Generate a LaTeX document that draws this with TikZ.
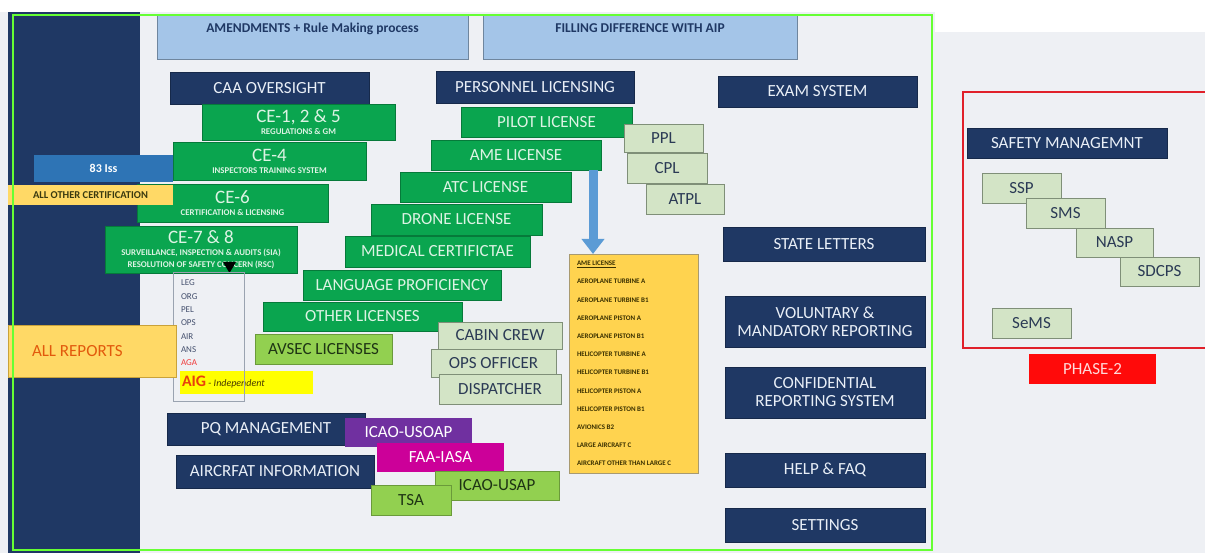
\documentclass[tikz,border=0pt]{standalone}
\usepackage{fontspec}
\setmainfont{Carlito}
\usepackage{tikz}
\usetikzlibrary{arrows.meta}

\definecolor{pagegray}{HTML}{EEF0F4}
\definecolor{navy}{HTML}{1F3864}
\definecolor{navyedge}{HTML}{16294A}
\definecolor{navytext}{HTML}{E9EFF7}
\definecolor{licgreen}{HTML}{0AA54F}
\definecolor{greenedge}{HTML}{067A3A}
\definecolor{minttext}{HTML}{DDF3E4}
\definecolor{palegreen}{HTML}{D3E4C6}
\definecolor{paleedge}{HTML}{7F8F78}
\definecolor{slatetext}{HTML}{2B3A55}
\definecolor{limegreen}{HTML}{92D050}
\definecolor{limeedge}{HTML}{6A9A3A}
\definecolor{darkgreentext}{HTML}{1E3414}
\definecolor{topblue}{HTML}{A4C5E8}
\definecolor{topedge}{HTML}{6F869E}
\definecolor{issblue}{HTML}{2E74B5}
\definecolor{amber}{HTML}{FFD966}
\definecolor{amberedge}{HTML}{C9A23A}
\definecolor{certtext}{HTML}{3A3A10}
\definecolor{reporttext}{HTML}{E2590C}
\definecolor{listtext}{HTML}{44506E}
\definecolor{listedge}{HTML}{9AA3B0}
\definecolor{agared}{HTML}{F03A3A}
\definecolor{aigorange}{HTML}{E8400C}
\definecolor{indtext}{HTML}{4A3B00}
\definecolor{hiyellow}{HTML}{FFFF00}
\definecolor{usoappurple}{HTML}{7030A0}
\definecolor{faamagenta}{HTML}{CC0099}
\definecolor{arrowblue}{HTML}{5B9BD5}
\definecolor{amelistfill}{HTML}{FFD34F}
\definecolor{amelistedge}{HTML}{A89A70}
\definecolor{amelisttext}{HTML}{3A3000}
\definecolor{phasered}{HTML}{FF0A0A}
\definecolor{phasetext}{HTML}{FFD9D9}
\definecolor{limeframe}{HTML}{66FF33}
\definecolor{redframe}{HTML}{E0202A}

\newcommand{\boxtxt}{\fontsize{17}{18}\selectfont}
\newcommand{\cetxt}{\fontsize{19}{12}\selectfont}
\newcommand{\cesub}{\fontsize{8.8}{12}\selectfont\bfseries}
\newcommand{\toptxt}{\fontsize{13.5}{15}\selectfont\bfseries}
\newcommand{\smalltxt}{\fontsize{12}{13}\selectfont\bfseries}
\newcommand{\listtxt}{\fontsize{9}{13.3}\selectfont}
\newcommand{\ameitems}{\fontsize{7}{18.2}\selectfont\bfseries}
\newcommand{\aigtxt}{\fontsize{16}{18}\selectfont\bfseries}

\tikzset{
  panel/.style={inner sep=0pt, outer sep=0pt, align=center},
  navybox/.style={panel, fill=navy, draw=navyedge, line width=0.6pt, text=navytext, font=\boxtxt},
  greenbox/.style={panel, fill=licgreen, draw=greenedge, line width=0.6pt, text=minttext, font=\boxtxt},
  cebox/.style={greenbox, font=\cetxt},
  palebox/.style={panel, fill=palegreen, draw=paleedge, line width=0.8pt, text=slatetext, font=\boxtxt},
  limebox/.style={panel, fill=limegreen, draw=limeedge, line width=0.8pt, text=darkgreentext, font=\boxtxt},
  topbox/.style={panel, fill=topblue, draw=topedge, line width=1pt, text=navy, font=\toptxt, text height=18pt, text depth=27pt},
  issbox/.style={panel, fill=issblue, text=white, font=\smalltxt},
  certbar/.style={panel, fill=amber, text=certtext, font=\fontsize{10.5}{12}\selectfont\bfseries},
  reportbox/.style={panel, fill=amber, draw=amberedge, line width=0.8pt, text=reporttext, font=\boxtxt, align=flush left, inner xsep=24pt, text width=120pt},
  tagbox/.style={panel, text=white, font=\boxtxt},
  amearrow/.style={draw=arrowblue, line width=9pt, -{Triangle[width=22pt,length=15pt]}},
  greenframe/.style={draw=limeframe, line width=2.5pt},
  phaseframe/.style={draw=redframe, line width=1.5pt}
}

\begin{document}
\begin{tikzpicture}[scale=1.000000,x=1pt,y=-1pt]
\useasboundingbox (0.000000,0.000000) rectangle (1205.000000,553.000000);
% Drawing background
\fill[white] (0.000000,0.000000) rectangle (1205.000000,553.000000);
\fill[pagegray] (0.000000,12.000000) rectangle (935.000000,553.000000);
\fill[pagegray] (935.000000,32.000000) rectangle (1205.000000,553.000000);
\fill[navy] (8.000000,12.000000) rectangle (140.000000,553.000000);
% Done with background; drawing top boxes
\node[topbox, minimum width=311.000000pt] (amend) at (312.500000,37.500000) {AMENDMENTS + Rule Making process};
\node[topbox, minimum width=314.000000pt] (filling) at (640.000000,37.500000) {FILLING DIFFERENCE WITH AIP};
% Done with top boxes; drawing oversight
\node[navybox, minimum width=199.000000pt, minimum height=32.000000pt] (caa) at (269.500000,88.000000) {CAA OVERSIGHT};
\node[cebox, minimum width=193.000000pt, minimum height=36.000000pt] (ce125) at (298.500000,122.000000) {CE-1, 2 \& 5\\{\cesub REGULATIONS \& GM}};
\node[issbox, minimum width=139.000000pt, minimum height=27.000000pt] (iss) at (103.500000,168.500000) {83 Iss};
\node[cebox, minimum width=193.000000pt, minimum height=38.000000pt] (ce4) at (269.500000,161.000000) {CE-4\\{\cesub INSPECTORS TRAINING SYSTEM}};
\node[cebox, minimum width=191.000000pt, minimum height=38.000000pt] (ce6) at (232.500000,203.000000) {CE-6\\{\cesub CERTIFICATION \& LICENSING}};
\node[certbar, minimum width=165.000000pt, minimum height=20.000000pt] (othercert) at (90.500000,195.000000) {ALL OTHER CERTIFICATION};
\node[cebox, minimum width=192.000000pt, minimum height=47.000000pt] (ce78) at (201.000000,249.500000) {CE-7 \& 8\\{\cesub SURVEILLANCE, INSPECTION \& AUDITS (SIA)}\\{\cesub RESOLUTION OF SAFETY CONCERN (RSC)}};
\coordinate (drop) at ([xshift=28.500000pt]ce78.south);
\fill[black] (drop) -- ++(-6.500000,-11.000000) -- ++(13.000000,0.000000) -- cycle;
% Reports and audit areas
\node[panel, fill=hiyellow, anchor=west, minimum width=133.000000pt, minimum height=23.000000pt, text width=129.000000pt, inner xsep=2pt, align=flush left] (aig) at (180.000000,382.500000) {{\aigtxt\textcolor{aigorange}{AIG}}\textcolor{indtext}{\fontsize{10}{12}\selectfont\ -\ \itshape Independent}};
\node[panel, draw=listedge, line width=0.8pt, anchor=north, minimum width=71.000000pt, text width=55.000000pt, inner xsep=8pt, inner ysep=8pt, text depth=108pt, align=flush left, text=listtext, font=\listtxt] (areas) at (208.500000,272.000000) {LEG\\ORG\\PEL\\OPS\\AIR\\ANS\\\textcolor{agared}{AGA}};
\node[reportbox, minimum height=52.000000pt] (reports) at (92.000000,351.000000) {ALL REPORTS};
% Done with oversight; drawing licensing
\node[navybox, minimum width=198.000000pt, minimum height=32.000000pt] (pel) at (535.000000,87.000000) {PERSONNEL LICENSING};
\node[greenbox, minimum width=171.000000pt, minimum height=30.000000pt] (pilot) at (546.500000,122.000000) {PILOT LICENSE};
\node[palebox, minimum width=79.000000pt, minimum height=28.000000pt] (ppl) at (663.500000,138.000000) {PPL};
\node[palebox, minimum width=80.000000pt, minimum height=30.000000pt] (cpl) at (667.000000,168.000000) {CPL};
\node[palebox, minimum width=78.000000pt, minimum height=30.000000pt] (atpl) at (685.000000,199.000000) {ATPL};
\node[greenbox, minimum width=170.000000pt, minimum height=30.000000pt] (ame) at (516.000000,155.000000) {AME LICENSE};
\node[greenbox, minimum width=171.000000pt, minimum height=30.000000pt] (atc) at (485.500000,187.000000) {ATC LICENSE};
\node[greenbox, minimum width=171.000000pt, minimum height=31.000000pt] (drone) at (456.500000,219.500000) {DRONE LICENSE};
\node[greenbox, minimum width=185.000000pt, minimum height=31.000000pt] (medical) at (437.500000,251.500000) {MEDICAL CERTIFICTAE};
\node[greenbox, minimum width=198.000000pt, minimum height=30.000000pt] (language) at (402.000000,285.000000) {LANGUAGE PROFICIENCY};
\node[greenbox, minimum width=199.000000pt, minimum height=29.000000pt] (otherlic) at (362.500000,316.500000) {OTHER LICENSES};
\node[limebox, minimum width=137.000000pt, minimum height=30.000000pt] (avsec) at (323.500000,349.000000) {AVSEC LICENSES};
\node[palebox, minimum width=124.000000pt, minimum height=27.000000pt] (cabin) at (500.000000,335.500000) {CABIN CREW};
\node[palebox, minimum width=125.000000pt, minimum height=28.000000pt] (opsofficer) at (493.500000,363.000000) {OPS OFFICER};
\node[palebox, minimum width=122.000000pt, minimum height=30.000000pt] (dispatcher) at (500.000000,389.000000) {DISPATCHER};
\node[panel, fill=amelistfill, draw=amelistedge, line width=0.8pt, anchor=north, minimum width=129.000000pt, minimum height=219.000000pt, text width=113.000000pt, inner xsep=8pt, inner ysep=7pt, align=flush left, text=amelisttext, font=\ameitems] (amelist) at (633.500000,254.000000) {\underline{AME LICENSE}\\AEROPLANE TURBINE A\\AEROPLANE TURBINE B1\\AEROPLANE PISTON A\\AEROPLANE PISTON B1\\HELICOPTER TURBINE A\\HELICOPTER TURBINE B1\\HELICOPTER PISTON A\\HELICOPTER PISTON B1\\AVIONICS B2\\LARGE AIRCRAFT C\\AIRCRAFT OTHER THAN LARGE C};
\coordinate (arrowtop) at ([xshift=-8.000000pt]ame.south east);
\draw[amearrow] (arrowtop) -- (arrowtop |- amelist.north);
% Done with licensing; drawing audits
\node[navybox, minimum width=198.000000pt, minimum height=32.000000pt] (pq) at (266.000000,429.000000) {PQ MANAGEMENT};
\node[tagbox, fill=usoappurple, minimum width=127.000000pt, minimum height=29.000000pt] (usoap) at (408.500000,432.500000) {ICAO-USOAP};
\node[navybox, minimum width=198.000000pt, minimum height=33.000000pt] (aircraft) at (275.000000,471.500000) {AIRCRFAT INFORMATION};
\node[tagbox, fill=faamagenta, minimum width=127.000000pt, minimum height=29.000000pt] (faa) at (440.500000,457.500000) {FAA-IASA};
\node[limebox, minimum width=124.000000pt, minimum height=29.000000pt] (usap) at (497.000000,485.500000) {ICAO-USAP};
\node[limebox, minimum width=80.000000pt, minimum height=30.000000pt] (tsa) at (411.000000,500.000000) {TSA};
% Done with audits; drawing right column
\node[navybox, minimum width=199.000000pt, minimum height=31.000000pt] (exam) at (817.500000,91.500000) {EXAM SYSTEM};
\node[navybox, minimum width=202.000000pt, minimum height=34.000000pt] (state) at (824.000000,244.000000) {STATE LETTERS};
\node[navybox, minimum width=200.000000pt, minimum height=51.000000pt] (voluntary) at (825.000000,321.500000) {VOLUNTARY \&\\MANDATORY REPORTING};
\node[navybox, minimum width=200.000000pt, minimum height=51.000000pt] (confidential) at (825.000000,392.500000) {CONFIDENTIAL\\REPORTING SYSTEM};
\node[navybox, minimum width=200.000000pt, minimum height=34.000000pt] (help) at (825.000000,470.000000) {HELP \& FAQ};
\node[navybox, minimum width=200.000000pt, minimum height=34.000000pt] (settings) at (825.000000,525.000000) {SETTINGS};
% Done with right column; drawing phase 2
\node[navybox, minimum width=200.000000pt, minimum height=30.000000pt] (safety) at (1067.000000,143.000000) {SAFETY MANAGEMNT};
\node[palebox, minimum width=79.000000pt, minimum height=30.000000pt] (ssp) at (1021.500000,188.000000) {SSP};
\node[palebox, minimum width=79.000000pt, minimum height=30.000000pt] (sms) at (1065.500000,213.000000) {SMS};
\node[palebox, minimum width=77.000000pt, minimum height=29.000000pt] (nasp) at (1114.500000,242.500000) {NASP};
\node[palebox, minimum width=79.000000pt, minimum height=29.000000pt] (sdcps) at (1159.500000,271.500000) {SDCPS};
\node[palebox, minimum width=79.000000pt, minimum height=30.000000pt] (sems) at (1031.500000,323.000000) {SeMS};
\node[tagbox, fill=phasered, text=phasetext, minimum width=127.000000pt, minimum height=30.000000pt] (phase) at (1092.500000,369.000000) {PHASE-2};
% Done with phase 2; drawing frames
\draw[greenframe] (13.000000,15.000000) rectangle (932.000000,550.000000);
\draw[phaseframe] (963.000000,92.000000) rectangle (1210.000000,348.000000);
% Done with frames
\end{tikzpicture}
\end{document}
